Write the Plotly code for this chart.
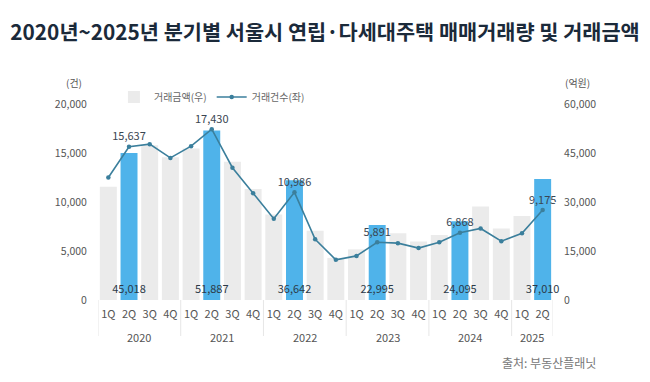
import plotly.graph_objects as go

years = ["2020"] * 4 + ["2021"] * 4 + ["2022"] * 4 + ["2023"] * 4 + ["2024"] * 4 + ["2025"] * 2
quarters = ["1Q", "2Q", "3Q", "4Q"] * 5 + ["1Q", "2Q"]

# 거래금액 (억원, right axis)
amount = [34700, 45018, 47400, 43700,
          46400, 51887, 42300, 34000,
          26200, 36642, 21200, 12900,
          15500, 22995, 20400, 17900,
          19900, 24095, 28600, 21900,
          25700, 37010]
# 거래건수 (건, left axis)
count = [12500, 15637, 15900, 14500,
         15700, 17430, 13500, 10900,
         8300, 10986, 6200, 4100,
         4500, 5891, 5800, 5300,
         5900, 6868, 7300, 6000,
         6800, 9175]

highlight = [q == "2Q" for q in quarters]
bar_colors = ["#4fb3ea" if h else "#ebebeb" for h in highlight]
bar_text = [f"{v:,}" if h else "" for v, h in zip(amount, highlight)]
line_text = [f"{v:,}" if h else "" for v, h in zip(count, highlight)]

label_level = 3000  # baseline level (억원) where amount labels are written

idx = list(range(len(quarters)))

# year groups -> positions of group centres and boundaries
groups = []
for i, yv in enumerate(years):
    if not groups or groups[-1][0] != yv:
        groups.append([yv, i, i])
    else:
        groups[-1][2] = i

fig = go.Figure()
fig.add_trace(go.Bar(
    x=idx, y=amount, name="거래금액(우)", marker=dict(color=bar_colors, line=dict(width=0)),
    yaxis="y", showlegend=True,
))
fig.add_trace(go.Scatter(
    x=idx, y=[label_level if h else None for h in highlight], mode="text",
    text=bar_text, textposition="middle center",
    textfont=dict(size=11, color="#2c3a48"), yaxis="y", showlegend=False, cliponaxis=False,
))
fig.add_trace(go.Scatter(
    x=idx, y=count, name="거래건수(좌)", mode="lines+markers+text",
    line=dict(color="#3b7f9c", width=1.6), marker=dict(size=4.5, color="#3b7f9c"),
    text=line_text, textposition="top center",
    textfont=dict(size=11, color="#3a4652"), yaxis="y2", cliponaxis=False,
))

font_family = "Noto Sans CJK KR, Noto Sans, sans-serif"

annotations = [
    dict(text="(건)", xref="paper", yref="paper", x=-24 / 455, y=1 + 22 / 196,
         showarrow=False, font=dict(size=10, color="#555"), xanchor="center", yanchor="middle"),
    dict(text="(억원)", xref="paper", yref="paper", x=1 + 24 / 455, y=1 + 22 / 196,
         showarrow=False, font=dict(size=10, color="#555"), xanchor="center", yanchor="middle"),
    dict(text="출처: 부동산플래닛", xref="paper", yref="paper", x=1 + 45 / 455, y=-62 / 196,
         showarrow=False, font=dict(size=12, color="#777"), xanchor="right", yanchor="middle"),
]
shapes = []
for yv, a, b in groups:
    annotations.append(dict(text=yv, xref="x", yref="paper", x=(a + b) / 2, y=-37 / 196,
                            showarrow=False, font=dict(size=11, color="#555"),
                            xanchor="center", yanchor="middle"))
    shapes.append(dict(type="line", xref="x", yref="paper", x0=a - 0.5, x1=a - 0.5,
                       y0=0, y1=-36 / 196, line=dict(color="#e6e6e6", width=1)))
shapes.append(dict(type="line", xref="x", yref="paper", x0=idx[-1] + 0.5, x1=idx[-1] + 0.5,
                   y0=0, y1=-36 / 196, line=dict(color="#e6e6e6", width=1)))

# the page body adds an 8px offset, so the figure is laid out 8px up/left
fig.update_layout(
    width=650, height=382,
    margin=dict(l=90, r=105, t=96, b=90),
    paper_bgcolor="white", plot_bgcolor="white",
    font=dict(family=font_family, size=11, color="#555"),
    bargap=0.18,
    title=dict(text="<b>2020년~2025년 분기별 서울시 연립·다세대주택 매매거래량 및 거래금액</b>",
               x=(325 - 8) / 650, xanchor="center", y=1 - 25 / 382, yanchor="middle", yref="container",
               font=dict(size=20.8, color="#1b2a3a", family=font_family)),
    xaxis=dict(range=[-0.5, len(quarters) - 0.5], tickvals=idx, ticktext=quarters,
               showgrid=False, showline=False, zeroline=False,
               tickfont=dict(size=11, color="#555"), tickangle=0,
               ticks="outside", ticklen=4, tickcolor="white", automargin=False),
    yaxis=dict(side="right", range=[0, 60000], tickvals=[0, 15000, 30000, 45000, 60000],
               tickformat=",d", showgrid=False, zeroline=False, showline=False, automargin=False,
               tickfont=dict(size=10.5, color="#555"), ticks="outside", ticklen=8, tickcolor="white"),
    yaxis2=dict(side="left", overlaying="y", range=[0, 20000], tickvals=[0, 5000, 10000, 15000, 20000],
                tickformat=",d", showgrid=False, zeroline=False, showline=False, automargin=False,
                tickfont=dict(size=10.5, color="#555"), ticks="outside", ticklen=8, tickcolor="white"),
    legend=dict(orientation="h", x=0.035, xanchor="left", y=1 + 7 / 196, yanchor="middle",
                font=dict(size=10, color="#666"), bgcolor="rgba(0,0,0,0)", traceorder="normal",
                itemwidth=30),
    annotations=annotations,
    shapes=shapes,
)

fig.write_html("out.html")
